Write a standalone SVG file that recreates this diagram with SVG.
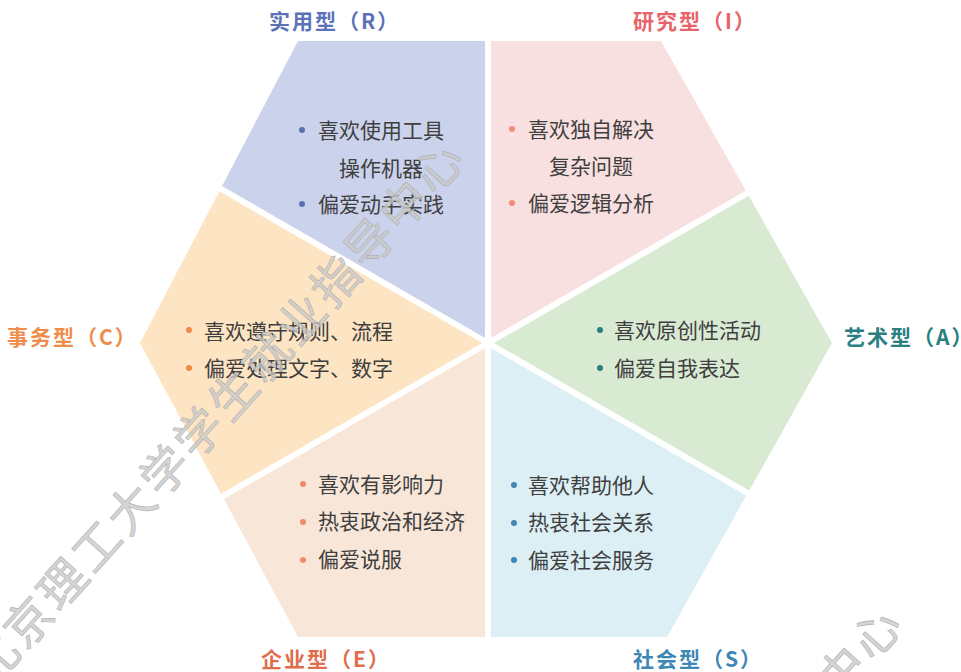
<svg xmlns="http://www.w3.org/2000/svg" width="961" height="672" viewBox="0 0 961 672">
<style>
.t{font-family:"Noto Sans CJK SC","Noto Sans",sans-serif;font-size:21px;fill:#3f3f3f;}
.h{font-family:"Noto Sans CJK SC","Noto Sans",sans-serif;font-size:21px;font-weight:bold;letter-spacing:2px;}
.gap{stroke:#ffffff;stroke-width:6;fill:none;stroke-linecap:butt;}
.wm{font-family:"Noto Sans CJK SC",sans-serif;font-size:47px;letter-spacing:4px;fill:#cacaca;fill-opacity:0.8;stroke:#b0b0b0;stroke-width:0.6;}
</style>
<rect width="961" height="672" fill="#ffffff"/>
<g id="node-R">
<polygon points="488,343 488,41 298,41 220.7,188.7" fill="#cbd2eb"/>
<circle cx="302" cy="130" r="3" fill="#5b6fb5"/>
<text class="t" x="318" y="137.5">喜欢使用工具</text>
<text class="t" x="339" y="175.5">操作机器</text>
<circle cx="302" cy="204" r="3" fill="#5b6fb5"/>
<text class="t" x="318" y="212">偏爱动手实践</text>
<text class="h" x="269" y="29" fill="#5b72b8">实用型（R）</text>
</g>
<g id="node-I">
<polygon points="488,343 747.3,193.3 661,41 488,41" fill="#f7e0df"/>
<circle cx="512" cy="129" r="3" fill="#f08c7a"/>
<text class="t" x="528" y="136.5">喜欢独自解决</text>
<text class="t" x="549" y="173.5">复杂问题</text>
<circle cx="512" cy="203" r="3" fill="#f08c7a"/>
<text class="t" x="528" y="211">偏爱逻辑分析</text>
<text class="h" x="633" y="29" fill="#e8646a">研究型（I）</text>
</g>
<g id="node-A">
<polygon points="488,343 747.8,493 832,343 747.3,193.3" fill="#d9ead3"/>
<circle cx="600" cy="330" r="3" fill="#2a7f7a"/>
<text class="t" x="614" y="338">喜欢原创性活动</text>
<circle cx="600" cy="368" r="3" fill="#2a7f7a"/>
<text class="t" x="614" y="375.5">偏爱自我表达</text>
<text class="h" x="844" y="345" fill="#2a8080">艺术型（A）</text>
</g>
<g id="node-S">
<polygon points="488,343 488,637 667,637 747.8,493" fill="#dbeff5"/>
<circle cx="514" cy="485" r="3" fill="#3f86b3"/>
<text class="t" x="528" y="492.5">喜欢帮助他人</text>
<circle cx="514" cy="523" r="3" fill="#3f86b3"/>
<text class="t" x="528" y="530">热衷社会关系</text>
<circle cx="514" cy="560" r="3" fill="#3f86b3"/>
<text class="t" x="528" y="567.5">偏爱社会服务</text>
<text class="h" x="633" y="667" fill="#3d87b5">社会型（S）</text>
</g>
<g id="node-E">
<polygon points="488,343 222.4,496.3 298,637 488,637" fill="#f8e6d8"/>
<circle cx="303" cy="484" r="3" fill="#f08a6a"/>
<text class="t" x="318" y="491.5">喜欢有影响力</text>
<circle cx="303" cy="522" r="3" fill="#f08a6a"/>
<text class="t" x="318" y="529">热衷政治和经济</text>
<circle cx="303" cy="560" r="3" fill="#f08a6a"/>
<text class="t" x="318" y="567">偏爱说服</text>
<text class="h" x="261" y="667" fill="#e06d4b">企业型（E）</text>
</g>
<g id="node-C">
<polygon points="488,343 220.7,188.7 140,343 222.4,496.3" fill="#fde4c2"/>
<circle cx="189" cy="330" r="3" fill="#f08a4a"/>
<text class="t" x="204" y="339">喜欢遵守规则、流程</text>
<circle cx="189" cy="368" r="3" fill="#f08a4a"/>
<text class="t" x="204" y="375.5">偏爱处理文字、数字</text>
<text class="h" x="7" y="345" fill="#f08c4a">事务型（C）</text>
</g>
<g id="connectors">
<line class="gap" x1="488" y1="343" x2="488" y2="36"/>
<line class="gap" x1="488" y1="343" x2="488" y2="642"/>
<line class="gap" x1="488" y1="343" x2="216" y2="186"/>
<line class="gap" x1="488" y1="343" x2="752" y2="190.5"/>
<line class="gap" x1="488" y1="343" x2="218" y2="499"/>
<line class="gap" x1="488" y1="343" x2="752" y2="495.5"/>
</g>
<g id="watermark">
<text class="wm" x="215" y="410" text-anchor="middle" dominant-baseline="central" transform="rotate(-48 215 410)">北京理工大学学生就业指导中心</text>
<text class="wm" x="653" y="876" text-anchor="middle" dominant-baseline="central" transform="rotate(-48 653 876)">北京理工大学学生就业指导中心</text>
</g>
</svg>
